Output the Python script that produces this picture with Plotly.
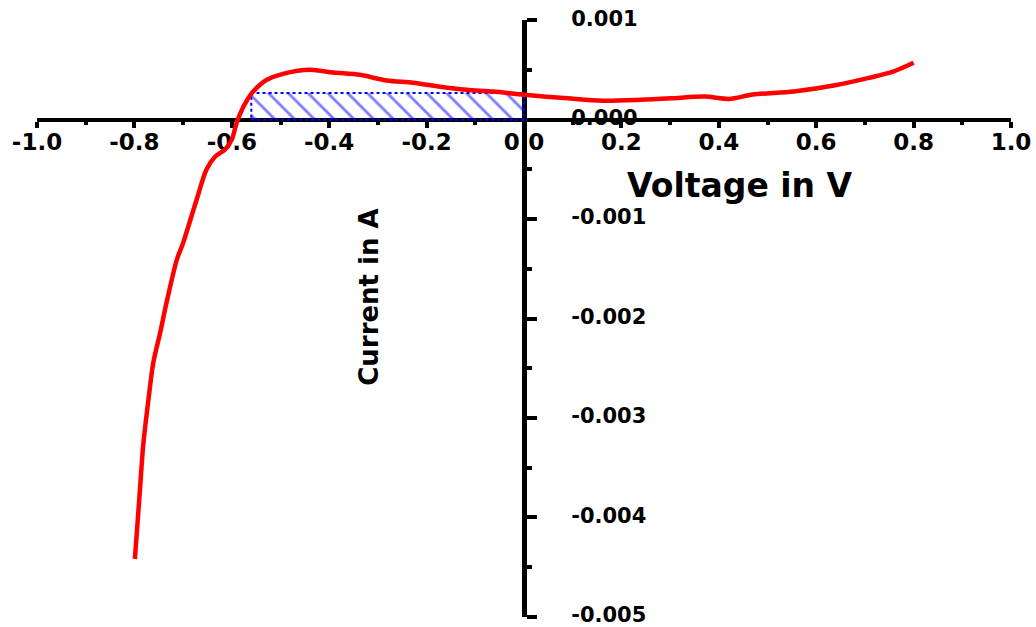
import plotly.graph_objects as go

# Data (voltage in V, current in A)
voltage = [-0.799, -0.789, -0.782, -0.771, -0.761, -0.747, -0.734, -0.713, -0.700,
           -0.672, -0.652, -0.634, -0.614, -0.600, -0.590, -0.576, -0.559, -0.542,
           -0.528, -0.495, -0.439, -0.392, -0.337, -0.282, -0.228, -0.172, -0.118,
           -0.064, 0.001, 0.090, 0.161, 0.232, 0.302, 0.372, 0.421, 0.470, 0.554,
           0.639, 0.708, 0.758, 0.800]
current = [-4.42e-3, -3.75e-3, -3.28e-3, -2.81e-3, -2.44e-3, -2.14e-3, -1.84e-3,
           -1.41e-3, -1.24e-3, -0.80e-3, -0.50e-3, -0.37e-3, -0.30e-3, -0.20e-3,
           -0.03e-3, 0.134e-3, 0.268e-3, 0.352e-3, 0.402e-3, 0.462e-3, 0.503e-3,
           0.475e-3, 0.452e-3, 0.395e-3, 0.372e-3, 0.332e-3, 0.302e-3, 0.284e-3,
           0.251e-3, 0.216e-3, 0.192e-3, 0.199e-3, 0.216e-3, 0.233e-3, 0.210e-3,
           0.254e-3, 0.285e-3, 0.347e-3, 0.422e-3, 0.484e-3, 0.573e-3]

# Max-power rectangle (hatched)
rect_voltage = [-0.56, 0.0]
rect_current = [0.0, 0.00027]

x_tick_vals = [-1.0, -0.8, -0.6, -0.4, -0.2, 0.0, 0.2, 0.4, 0.6, 0.8, 1.0]
x_tick_labels = ["-1.0", "-0.8", "-0.6", "-0.4", "-0.2", "0.0", "0.2", "0.4", "0.6", "0.8", "1.0"]
x_minor_vals = [-0.9, -0.7, -0.5, -0.3, -0.1, 0.1, 0.3, 0.5, 0.7, 0.9]
y_tick_vals = [0.001, 0.0, -0.001, -0.002, -0.003, -0.004, -0.005]
y_tick_labels = ["0.001", "0.000", "-0.001", "-0.002", "-0.003", "-0.004", "-0.005"]
y_minor_vals = [0.0005, -0.0005, -0.0015, -0.0025, -0.0035, -0.0045]

x_title = "Voltage in V"
y_title = "Current in A"

fig = go.Figure()

rx = [rect_voltage[0], rect_voltage[1], rect_voltage[1], rect_voltage[0], rect_voltage[0]]
ry = [rect_current[0], rect_current[0], rect_current[1], rect_current[1], rect_current[0]]
fig.add_trace(go.Scatter(
    x=rx, y=ry, mode="lines", fill="toself",
    fillcolor="rgba(0,0,0,0)",
    fillpattern=dict(shape="\\", fgcolor="#0000FF", bgcolor="rgba(0,0,0,0)",
                     size=14, solidity=0.2),
    line=dict(color="#0000FF", width=2, dash="dot"),
    hoverinfo="skip", showlegend=False,
))

fig.add_trace(go.Scatter(
    x=voltage, y=current, mode="lines",
    line=dict(color="#FF0000", width=4.5, shape="spline", smoothing=0.8),
    showlegend=False,
))

tick_font = dict(family="DejaVu Sans", size=23, color="black", weight="bold")
ytick_font = dict(family="DejaVu Sans", size=21, color="black", weight="bold")

fig.update_layout(
    width=1036, height=627,
    margin=dict(l=37, r=25, t=20, b=10),
    paper_bgcolor="white", plot_bgcolor="white",
    xaxis=dict(
        range=[-1.0, 1.0], anchor="free", position=5 / 6, automargin=False,
        showline=True, linecolor="black", linewidth=4,
        showgrid=False, zeroline=False,
        ticks="outside", ticklen=6, tickwidth=4, tickcolor="black",
        tickmode="array", tickvals=x_tick_vals, ticktext=x_tick_labels,
        tickfont=tick_font, ticklabelstandoff=-5,
        minor=dict(tickmode="array", tickvals=x_minor_vals, ticks="outside",
                   ticklen=3, tickwidth=4, tickcolor="black", showgrid=False),
        layer="below traces",
    ),
    yaxis=dict(
        range=[-0.005004, 0.001004], anchor="free", position=0.5, side="right",
        automargin=False,
        showline=True, linecolor="black", linewidth=5,
        showgrid=False, zeroline=False,
        ticks="outside", ticklen=10, tickwidth=4, tickcolor="black",
        tickmode="array", tickvals=y_tick_vals, ticktext=y_tick_labels,
        tickfont=ytick_font, ticklabelstandoff=30, ticklabelshift=-2,
        minor=dict(tickmode="array", tickvals=y_minor_vals, ticks="outside",
                   ticklen=5, tickwidth=4, tickcolor="black", showgrid=False),
        layer="below traces",
    ),
    annotations=[
        dict(text=x_title, xref="paper", yref="paper", x=0.722, y=0.7236,
             xanchor="center", yanchor="middle", showarrow=False,
             font=dict(family="DejaVu Sans", size=33, color="black", weight="bold")),
        dict(text=y_title, xref="paper", yref="paper", x=0.340, y=0.535,
             xanchor="center", yanchor="middle", showarrow=False, textangle=-90,
             font=dict(family="DejaVu Sans", size=26, color="black", weight="bold")),
    ],
)

fig.write_html("out.html")
